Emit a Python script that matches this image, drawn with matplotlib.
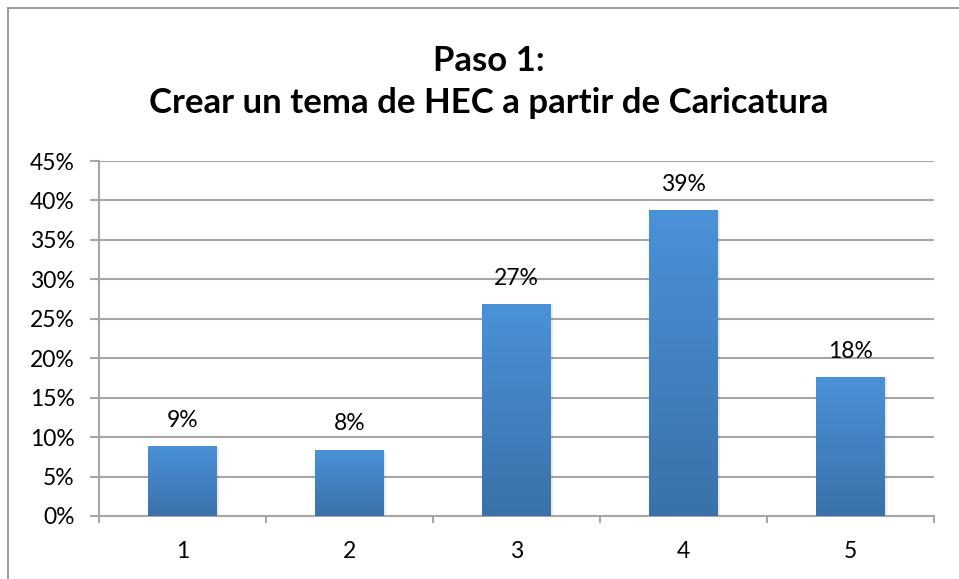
import matplotlib
matplotlib.use("Agg")
import matplotlib.pyplot as plt
import numpy as np
from matplotlib.lines import Line2D
from matplotlib.colors import LinearSegmentedColormap

categories = ["1", "2", "3", "4", "5"]
values = [8.9, 8.4, 26.9, 38.8, 17.6]
labels = ["9%", "8%", "27%", "39%", "18%"]
yticks = [0, 5, 10, 15, 20, 25, 30, 35, 40, 45]
title = "Paso 1:\nCrear un tema de HEC a partir de Caricatura"

plt.rcParams['font.family'] = ['Lato', 'DejaVu Sans']

W, H = 959, 579
fig = plt.figure(figsize=(W / 100, H / 100), dpi=100)
ax = fig.add_axes([99 / W, 1 - 516 / H, (934 - 99) / W, (516 - 161) / H])

grid_c = "#a6a6a6"
x = np.arange(len(categories))
bars = ax.bar(x, values, width=0.41, color="#4281c6", zorder=3)

cmap = LinearSegmentedColormap.from_list("g", ["#3a71aa", "#4a92d8"])
grad = np.linspace(0, 1, 256).reshape(-1, 1)
for b in bars:
    x0, y0 = b.get_x(), b.get_y()
    w, h = b.get_width(), b.get_height()
    # soft shadow
    ax.bar(x0 + w / 2 + 0.012, h, width=w, bottom=-0.15, color="#000000", alpha=0.08, zorder=2.5)
    im = ax.imshow(grad, cmap=cmap, origin="lower", aspect="auto",
                   extent=[x0, x0 + w, y0, y0 + h], zorder=4)
    im.set_clip_path(b)

for xi, v, lab in zip(x, values, labels):
    ax.annotate(lab, (xi, v), xytext=(0, 11), textcoords="offset points",
                ha="center", va="bottom", fontsize=16.5, color="#000000", zorder=5)

ax.set_xlim(-0.5, len(categories) - 0.5)
ax.set_ylim(0, 45)
ax.set_yticks(yticks)
ax.set_yticklabels([f"{t}%" for t in yticks])
ax.set_xticks(x)
ax.set_xticklabels(categories)
ax.set_xticks(np.arange(-0.5, len(categories)), minor=True)
ax.yaxis.grid(True, color=grid_c, linewidth=1.5, zorder=1)
ax.set_axisbelow(True)

for s in ["top", "right"]:
    ax.spines[s].set_visible(False)
for s in ["left", "bottom"]:
    ax.spines[s].set_color(grid_c)
    ax.spines[s].set_linewidth(1.5)

ax.tick_params(axis="y", length=6.5, width=1.5, color=grid_c, pad=11, labelsize=16.5, labelcolor="#000000")
ax.tick_params(axis="x", which="major", length=0, pad=18, labelsize=16.5, labelcolor="#000000")
ax.tick_params(axis="x", which="minor", length=5, width=1.5, color=grid_c)

fig.text(489 / W, 1 - 82 / H, title, ha="center", va="center", fontsize=25,
         fontweight="bold", linespacing=1.4)

# chart frame (left and top edges visible)
fig.add_artist(Line2D([8 / W, 8 / W], [0, 1 - 8 / H], transform=fig.transFigure, color="#8c8c8c", linewidth=1.2))
fig.add_artist(Line2D([8 / W, 1], [1 - 8 / H, 1 - 8 / H], transform=fig.transFigure, color="#8c8c8c", linewidth=1.2))

fig.savefig("out.png", dpi=100, facecolor="white")
